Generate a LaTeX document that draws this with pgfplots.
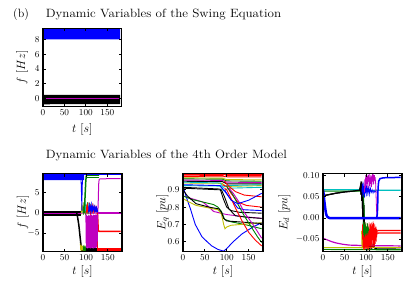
\documentclass[border=0pt]{standalone}
\usepackage{graphicx}
\usepackage{pgfplots}
\pgfplotsset{compat=1.18}
\definecolor{mblue}{rgb}{0,0,1}
\definecolor{mgreen}{rgb}{0,0.5,0}
\definecolor{mred}{rgb}{1,0,0}
\definecolor{mcyan}{rgb}{0,0.75,0.75}
\definecolor{mmag}{rgb}{0.75,0,0.75}
\definecolor{myel}{rgb}{0.75,0.75,0}
\pgfplotsset{
  mystyle/.style={
    scale only axis, width=79pt, height=78pt,
    xmin=0, xmax=183,
    xtick={0,50,100,150},
    tick align=inside,
    major tick length=3pt,
    every tick/.style={black, line width=0.8pt},
    axis line style={line width=1.4pt},
    axis on top=true,
    tick label style={font=\fontsize{9.5}{11}\selectfont},
    label style={font=\fontsize{12}{14}\selectfont},
    xlabel={$t\ [s]$},
    xlabel style={at={(axis description cs:0.5,-0.256)}, anchor=center},
    ylabel style={at={(axis description cs:-0.255,0.5)}, anchor=center},
    no markers,
    every axis plot/.append style={line width=0.9pt},
  }
}
\begin{document}
\begin{tikzpicture}
\useasboundingbox (0,0) rectangle (407pt,284pt);
\node[anchor=base west, inner sep=0, font=\fontsize{12}{14}\selectfont] at (13pt,266pt) {(b)};
\node[anchor=base west, inner sep=0, font=\fontsize{12}{14}\selectfont] at (45.7pt,266pt) {\scalebox{1.09}[1]{Dynamic Variables of the Swing Equation}};
\node[anchor=base west, inner sep=0, font=\fontsize{12}{14}\selectfont] at (45.7pt,125.7pt) {\scalebox{1.09}[1]{Dynamic Variables of the 4th Order Model}};

% ---------------- top: swing equation
\begin{axis}[mystyle, width=78.5pt, at={(43pt,177.5pt)}, anchor=south west,
  ymin=-1.05, ymax=9.45, ytick={0,2,4,6,8}, ylabel={$f\ [Hz]$},
  xlabel style={at={(axis description cs:0.5,-0.30)}},
  ylabel style={at={(axis description cs:-0.265,0.5)}}]
\addplot[fill=mblue, draw=none] coordinates {(0,6.4)(0.5,7.2)(1.2,7.7)(2.5,7.95)(5,8.0)(180,8.0)(180,9.6)(0,9.6)};
\addplot[fill=black, draw=none] coordinates {(0,0.9)(0.6,0.5)(180,0.5)(180,-0.72)(0,-0.75)};
\addplot[myel, line width=0.6pt] coordinates {(0,1.6)(0.5,0.4)(1,-0.3)(1.5,0.2)};
\addplot[mmag, line width=1.6pt] coordinates {(0,0.02)(180,0.02)};
\end{axis}

% ---------------- bottom left: f
\begin{axis}[mystyle, at={(43pt,32.5pt)}, anchor=south west,
  ymin=-9.5, ymax=9.6, ytick={-5,0,5}, ylabel={$f\ [Hz]$}]
\addplot[fill=mblue, draw=none] coordinates {(0,6.4)(0.5,7.3)(1.5,7.9)(3,8.0)(95,8.0)(95,9.7)(0,9.7)};
\addplot[mmag, line width=1pt] coordinates {(0,-0.1)(127,-0.1)(128,3)(129,7)(130,8.1)(132,8.3)(180,8.35)};
\addplot[fill=black, draw=none] coordinates {(0,0.5)(88,0.5)(88,-0.8)(0,-0.8)};
\addplot[mmag, line width=0.6pt] coordinates {(0,-0.15)(88,-0.15)};
\addplot[black, line width=1.5pt] coordinates {(78,0)(80,-1)(83,-3)(86,-6)(89,-8.8)(92,-9.2)};
\addplot[fill=black, draw=none] coordinates {(89,-8.6)(126,-8.6)(126,-9.7)(89,-9.7)};
\addplot[mred, line width=1.5pt] coordinates {(126,0)(127,-2)(128,-4.3)(130,-4.6)(180,-4.6)};
\addplot[fill=mred, draw=none] coordinates {(126,-8.6)(180,-8.6)(180,-9.7)(126,-9.7)};
\addplot[mred, line width=0.8pt] coordinates {(126,0)(126.5,-9)};
\addplot[mmag, line width=0.6pt] coordinates {(99,-0.3)(99.5,-7.5)(100,-1)(100.5,-8.6)(101,-0.5)(101.5,-8.2)(102,-2)(102.5,-8.8)(103,-0.8)(103.5,-7.9)(104,-1.5)(104.5,-8.5)(105,-0.6)(105.5,-8.7)(106,-2.5)(106.5,-8.1)(107,-0.7)(107.5,-8.6)(108,-1.2)(108.5,-8.4)(109,-0.5)(109.5,-8.8)(110,-1.8)(110.5,-8.0)(111,-0.6)(111.5,-8.6)(112,-1.0)(112.5,-8.3)(113,-0.4)(113.5,-8.7)(114,-1.6)(114.5,-8.2)(115,-0.7)(115.5,-8.5)(116,-1.1)(116.5,-8.8)(117,-0.5)(117.5,-8.1)(118,-2.0)(118.5,-8.6)(119,-0.6)(119.5,-8.4)(120,-1.3)(120.5,-8.7)(121,-0.5)(121.5,-8.0)(122,-0.9)(122.5,-8.6)(123,-0.4)(123.5,-8.3)(124,-1.4)(124.5,-8.5)(125,-0.6)(125.5,-7.8)(126,-0.5)(126.5,-7.0)(127,-0.3)};
\addplot[myel, line width=0.5pt] coordinates {(88,0)(89,2.2)(90,-0.5)(91,1.8)(92,0.3)(93,2.6)(94,-0.2)(95,1.5)(96,0.5)(97,2.4)(98,-0.4)(99,1.2)(100,0.2)(101,2.0)(102,-0.3)(103,1.0)};
\addplot[mgreen, line width=0.5pt] coordinates {(92,0)(93,1.5)(94,-0.5)(95,2.5)(96,0)(97,1.8)(98,-0.6)(99,2.2)(100,0.4)(101,1.4)(102,-0.2)(103,2.6)(104,0.1)(105,1.7)(106,-0.4)(107,2.0)(108,0.3)(109,1.2)(110,0)};
\addplot[mcyan, line width=0.5pt] coordinates {(95,0.2)(96,2)(97,0.5)(98,2.7)(99,0.3)(100,1.6)(101,-0.1)(102,2.3)(103,0.6)(104,1.9)(105,-0.3)(106,2.5)(107,0.2)(108,1.5)(109,-0.2)(110,2.2)(111,0.4)(112,1.3)(113,0)(114,2.0)(115,0.3)};
\addplot[mred, line width=0.5pt] coordinates {(100,0)(101,1.9)(102,-0.4)(103,2.4)(104,0.2)(105,1.4)(106,-0.2)(107,2.6)(108,0.5)(109,1.8)(110,-0.5)(111,2.1)(112,0.3)(113,1.6)(114,-0.1)(115,2.3)(116,0.4)(117,1.1)(118,-0.3)(119,1.9)(120,0.2)(121,1.4)(122,0)(123,1.8)(124,0.2)(125,1.2)(126,0)};
\addplot[mblue, line width=0.5pt] coordinates {(105,0)(106,1.6)(107,0.3)(108,2.4)(109,-0.2)(110,1.3)(111,0.5)(112,2.7)(113,-0.3)(114,1.7)(115,0.2)(116,2.2)(117,0.6)(118,1.5)(119,-0.1)(120,2.0)(121,0.3)(122,1.1)(123,0)(124,1.6)(125,0.4)(126,0.9)(127,0)};
\addplot[myel, line width=0.5pt] coordinates {(86,-7.5)(87,-9.3)(88,-8)(89,-9.4)(90,-7.8)(91,-9.2)(92,-8.2)(93,-9.4)(94,-8.5)(95,-9.3)(96,-8.4)(97,-9.4)(98,-8.6)};
\addplot[mgreen, line width=0.5pt] coordinates {(93,-8)(94,-9.4)(95,-8.4)(96,-9.3)(97,-8.2)(98,-9.4)(99,-8.5)(100,-9.3)};
\addplot[mgreen, line width=1.5pt] coordinates {(95,0)(97,3)(99,7.5)(100,8.8)(101,9.2)(130,9.2)};
\addplot[mgreen, line width=0.8pt] coordinates {(99.5,8.6)(130,8.6)};
\addplot[mblue, line width=1.5pt] coordinates {(95,9.3)(180,9.3)};
\addplot[mmag, line width=2pt] coordinates {(127,0)(180,0)};
\addplot[mblue, line width=0.8pt] coordinates {(88,8.5)(89.5,3)(90,0.5)(90.5,4)(91.5,8.5)};
\end{axis}

% ---------------- bottom middle: Eq
\begin{axis}[mystyle, width=80pt, at={(183pt,32.5pt)}, anchor=south west,
  ymin=0.543, ymax=0.995, ytick={0.6,0.7,0.8,0.9}, ylabel={$E_q\ [pu]$},
  yticklabel style={/pgf/number format/.cd, fixed, precision=1}]
\addplot[mmag] coordinates {(0,0.865)(45,0.83)(60,0.80)(70,0.775)(100,0.757)(140,0.745)(180,0.735)};
\addplot[mred] coordinates {(0,0.992)(180,0.992)};
\addplot[mred] coordinates {(0,0.985)(90,0.984)(95,0.978)(100,0.983)(180,0.983)};
\addplot[mred] coordinates {(0,0.977)(180,0.975)};
\addplot[myel] coordinates {(0,0.97)(90,0.968)(100,0.96)(180,0.958)};
\addplot[mgreen] coordinates {(0,0.964)(90,0.962)(100,0.952)(180,0.95)};
\addplot[mmag] coordinates {(0,0.957)(90,0.955)(100,0.945)(180,0.942)};
\addplot[black] coordinates {(0,0.95)(90,0.948)(100,0.935)(180,0.935)};
\addplot[myel] coordinates {(0,0.94)(90,0.938)(98,0.92)(180,0.925)};
\addplot[mcyan] coordinates {(0,0.945)(85,0.94)(92,0.915)(100,0.925)(180,0.93)};
\addplot[mcyan] coordinates {(0,0.925)(85,0.922)(93,0.895)(105,0.91)(180,0.915)};
\addplot[mblue] coordinates {(0,0.93)(85,0.925)(93,0.9)(105,0.86)(115,0.83)(125,0.795)(140,0.785)(180,0.78)};
\addplot[mblue] coordinates {(0,0.92)(5,0.88)(10,0.84)(17,0.79)(28,0.70)(43,0.63)(55,0.60)(66,0.575)(80,0.555)(93,0.545)(100,0.56)(115,0.6)(135,0.645)(160,0.685)(180,0.71)};
\addplot[mgreen] coordinates {(0,0.865)(20,0.845)(45,0.83)(70,0.815)(80,0.80)(88,0.775)(95,0.73)(110,0.715)(140,0.70)(180,0.675)};
\addplot[myel] coordinates {(0,0.85)(10,0.835)(30,0.81)(60,0.795)(80,0.785)(88,0.76)(93,0.70)(96,0.675)(100,0.685)(110,0.695)(180,0.71)};
\addplot[black] coordinates {(0,0.9)(10,0.865)(30,0.82)(60,0.80)(82,0.79)(88,0.77)(93,0.735)(100,0.72)(180,0.705)};
\addplot[black] coordinates {(0,0.915)(85,0.905)(92,0.85)(100,0.80)(110,0.78)(130,0.77)(180,0.765)};
\addplot[black] coordinates {(0,0.91)(88,0.90)(95,0.86)(105,0.79)(120,0.75)(150,0.74)(180,0.735)};
\addplot[mred] coordinates {(95,0.95)(105,0.92)(120,0.89)(140,0.87)(180,0.86)};
\addplot[mred] coordinates {(90,0.93)(100,0.92)(110,0.88)(125,0.83)(145,0.81)(180,0.80)};
\addplot[mred] coordinates {(95,0.91)(100,0.9)(110,0.85)(120,0.795)(135,0.72)(150,0.655)(165,0.61)(180,0.575)};
\addplot[mgreen] coordinates {(100,0.92)(112,0.88)(125,0.82)(140,0.75)(155,0.69)(170,0.63)(180,0.595)};
\addplot[mmag] coordinates {(105,0.91)(115,0.88)(128,0.83)(140,0.77)(160,0.70)(180,0.62)};
\addplot[mblue] coordinates {(95,0.9)(110,0.84)(125,0.82)(150,0.84)(180,0.88)};
\end{axis}

% ---------------- bottom right: Ed
\begin{axis}[mystyle, at={(323pt,32.5pt)}, anchor=south west,
  ymin=-0.078, ymax=0.104, ytick={-0.05,0,0.05,0.1}, scaled y ticks=false,
  yticklabel style={/pgf/number format/.cd, fixed, fixed zerofill, precision=2},
  ylabel={$E_d\ [pu]$}, ylabel style={at={(axis description cs:-0.49,0.5)}}]
\addplot[black, line width=1.2pt] coordinates {(0,0.052)(10,0.054)(30,0.058)(50,0.061)(70,0.063)(85,0.065)(87,0.075)(88,0.055)(89,0.085)(90,0.04)(91,0.08)(92,0.0)(93,0.06)(94,-0.04)(95,0.03)(96,-0.07)(97,-0.02)(98,-0.06)(99,-0.045)(100,-0.07)(102,-0.05)(104,-0.068)(106,-0.055)(108,-0.072)(110,-0.06)(113,-0.07)(116,-0.062)(120,-0.07)(125,-0.072)(180,-0.0725)};
\addplot[myel, line width=1.2pt] coordinates {(0,-0.069)(180,-0.069)};
\addplot[mgreen, line width=1.2pt] coordinates {(0,-0.073)(180,-0.074)};
\addplot[mmag, line width=1.2pt] coordinates {(0,-0.047)(5,-0.049)(10,-0.051)(20,-0.055)(30,-0.058)(45,-0.061)(60,-0.063)(90,-0.064)(180,-0.065)};
\addplot[mcyan, line width=1.2pt] coordinates {(0,0.066)(90,0.066)(95,0.06)(100,0.068)(110,0.062)(120,0.065)(180,0.065)};
\addplot[mgreen] coordinates {(0,0.063)(93,0.063)(94,0.05)(95,0.02)(96,0.002)(100,0)(180,0)};
\addplot[black, line width=1.2pt] coordinates {(0,0.052)(10,0.054)(30,0.058)(50,0.061)(70,0.063)(85,0.065)(87,0.075)(88,0.055)(89,0.085)(90,0.04)(91,0.08)(92,0.0)};
\addplot[mblue, line width=0.6pt] coordinates {(90,0.06)(91,0.08)(92,0.05)(93,0.085)(94,0.055)(95,0.075)(96,0.048)(97,0.08)(98,0.058)(99,0.072)(100,0.05)(101,0.078)(102,0.06)(103,0.07)(104,0.052)(105,0.075)(106,0.06)(107,0.068)(108,0.055)(110,0.07)(112,0.06)(114,0.066)(116,0.058)(118,0.065)(120,0.06)(122,0.063)(124,0.06)};
\addplot[mmag, line width=0.8pt] coordinates {(96,0.06)(97,0.09)(98,0.07)(99,0.1)(100,0.075)(101,0.104)(102,0.08)(103,0.098)(104,0.07)(105,0.1)(106,0.085)(107,0.104)(108,0.075)(109,0.095)(110,0.08)(111,0.1)(112,0.072)(113,0.097)(114,0.085)(115,0.104)(116,0.078)(117,0.095)(118,0.088)(119,0.1)(120,0.09)(121,0.092)(122,0.08)(123,0.05)(124,0.02)(125,0.005)(127,0)(180,0)};
\addplot[myel, line width=0.5pt] coordinates {(89,-0.03)(90,-0.072)(91,-0.02)(92,-0.07)(93,-0.035)(94,-0.075)(95,-0.025)(96,-0.068)(97,-0.04)};
\addplot[mred, line width=0.5pt] coordinates {(91,-0.015)(91.5,-0.05)(92,-0.02)(92.5,-0.068)(93,-0.012)(93.5,-0.074)(94,-0.03)(94.5,-0.07)(95,-0.015)(95.5,-0.062)(96,-0.025)(96.5,-0.075)(97,-0.01)(97.5,-0.066)(98,-0.03)(98.5,-0.072)(99,-0.018)(99.5,-0.06)(100,-0.035)(100.5,-0.074)(101,-0.02)(101.5,-0.068)(102,-0.012)(102.5,-0.055)(103,-0.03)(103.5,-0.072)(104,-0.015)(104.5,-0.065)(105,-0.035)(105.5,-0.075)(106,-0.02)(106.5,-0.06)(107,-0.01)(107.5,-0.07)(108,-0.028)(108.5,-0.065)(109,-0.015)(109.5,-0.058)(110,-0.03)(110.5,-0.072)(111,-0.012)(111.5,-0.062)(112,-0.025)(112.5,-0.07)(113,-0.01)(113.5,-0.055)(114,-0.02)(114.5,-0.068)(115,-0.015)(115.5,-0.05)(116,-0.008)(116.5,-0.06)(117,-0.02)(117.5,-0.07)(118,-0.012)(118.5,-0.055)(119,-0.025)(119.5,-0.066)(120,-0.015)(120.5,-0.05)(121,-0.02)(121.5,-0.06)(122,-0.025)(122.5,-0.048)(123,-0.02)(123.5,-0.055)(124,-0.028)(124.5,-0.045)(125,-0.025)(125.5,-0.04)(126,-0.03)};
\addplot[mgreen, line width=0.5pt] coordinates {(93,-0.01)(94,-0.04)(95,-0.008)(96,-0.045)(97,-0.015)(98,-0.038)(99,-0.01)(100,-0.042)(101,-0.02)(102,-0.035)(103,-0.012)(104,-0.04)(105,-0.02)(106,-0.03)};
\addplot[mred, line width=1.3pt] coordinates {(126,-0.03)(128,-0.029)(180,-0.029)};
\addplot[mred, line width=1.3pt] coordinates {(126,-0.036)(128,-0.035)(180,-0.035)};
\addplot[mblue, line width=2.5pt] coordinates {(0,0.066)(1,0.06)(2,0.05)(3,0.04)(4,0.032)(5,0.024)(6,0.017)(7,0.011)(8,0.007)(10,0.003)(13,0.001)(16,0)(180,0)};
\addplot[mblue, line width=1.5pt] coordinates {(124,0)(126,0.01)(127,0.04)(127.5,0.07)(129,0.086)(132,0.092)(140,0.094)(180,0.095)};
\end{axis}
\end{tikzpicture}
\end{document}
